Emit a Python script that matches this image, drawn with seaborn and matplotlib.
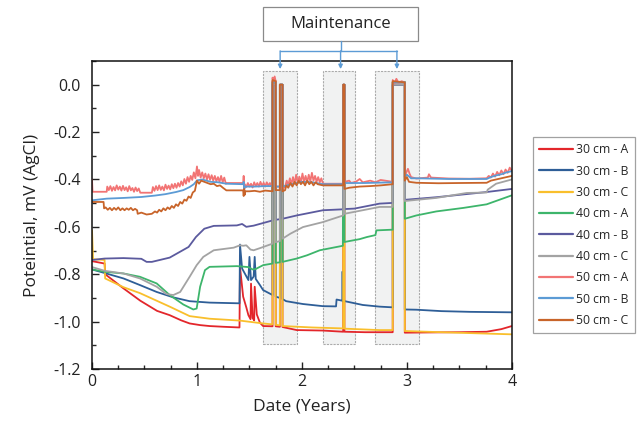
import matplotlib
matplotlib.use("Agg")
import matplotlib.pyplot as plt
import seaborn as sns
import pandas as pd
from matplotlib.patches import Rectangle
from matplotlib.ticker import MultipleLocator

# 数据 (年, 电位) —— 从原图读取
cm30_a = [(0.0, -0.745), (0.12, -0.755), (0.125, -0.80), (0.3, -0.86), (0.46, -0.912), (0.62, -0.955),
          (0.74, -0.973), (0.85, -0.995), (0.93, -1.008), (1.03, -1.015), (1.12, -1.019), (1.25, -1.022),
          (1.405, -1.025), (1.41, -0.77), (1.44, -0.895), (1.47, -0.94), (1.49, -0.973), (1.51, -0.99),
          (1.515, -0.84), (1.53, -0.985), (1.545, -0.995), (1.55, -0.853), (1.57, -0.97), (1.6, -1.005),
          (1.63, -1.019), (1.72, -1.02), (1.72, 0.015), (1.75, 0.015), (1.75, -1.02), (1.79, -1.022),
          (1.79, 0.0), (1.815, 0.0), (1.815, -1.023), (1.95, -1.036), (2.2, -1.038), (2.393, -1.043),
          (2.393, 0.0), (2.405, 0.0), (2.405, -1.043), (2.6, -1.045), (2.865, -1.045), (2.865, 0.01),
          (2.98, 0.01), (2.98, -1.047), (3.2, -1.046), (3.5, -1.045), (3.76, -1.043), (3.9, -1.032),
          (4.0, -1.019)]

cm30_b = [(0.0, -0.78), (0.12, -0.795), (0.3, -0.818), (0.457, -0.846), (0.616, -0.875), (0.775, -0.898),
          (0.93, -0.914), (1.12, -0.92), (1.405, -0.923), (1.41, -0.675), (1.43, -0.776), (1.49, -0.825),
          (1.50, -0.727), (1.515, -0.825), (1.54, -0.81), (1.55, -0.727), (1.56, -0.82), (1.6, -0.846),
          (1.63, -0.867), (1.72, -0.888), (1.72, 0.0), (1.75, 0.0), (1.75, -0.895), (1.79, -0.9),
          (1.79, 0.0), (1.815, 0.0), (1.815, -0.905), (1.85, -0.914), (2.01, -0.926), (2.2, -0.935),
          (2.325, -0.936), (2.33, -0.907), (2.385, -0.912), (2.385, -0.79), (2.39, -0.79), (2.39, -0.912),
          (2.43, -0.916), (2.58, -0.93), (2.74, -0.937), (2.865, -0.94), (2.865, 0.0), (2.98, 0.0),
          (2.98, -0.949), (3.09, -0.95), (3.33, -0.956), (3.6, -0.959), (4.0, -0.961)]

cm30_c = [(0.0, -0.615), (0.01, -0.737), (0.12, -0.74), (0.125, -0.818), (0.3, -0.855), (0.457, -0.88),
          (0.74, -0.937), (0.93, -0.977), (1.12, -0.988), (1.41, -0.996), (1.63, -1.008), (1.72, -1.012),
          (1.72, 0.01), (1.75, 0.01), (1.75, -1.014), (1.79, -1.016), (1.79, 0.0), (1.815, 0.0),
          (1.815, -1.019), (2.1, -1.025), (2.393, -1.029), (2.393, 0.0), (2.405, 0.0), (2.405, -1.03),
          (2.74, -1.036), (2.865, -1.036), (2.865, 0.01), (2.98, 0.01), (2.98, -1.04), (3.47, -1.047),
          (4.0, -1.054)]

cm40_a = [(0.0, -0.78), (0.124, -0.79), (0.3, -0.797), (0.457, -0.811), (0.616, -0.839), (0.74, -0.888),
          (0.87, -0.928), (0.965, -0.949), (0.997, -0.945), (1.03, -0.853), (1.076, -0.783), (1.12, -0.769),
          (1.38, -0.766), (1.49, -0.77), (1.53, -0.78), (1.56, -0.778), (1.63, -0.762), (1.72, -0.755),
          (1.72, 0.01), (1.75, 0.01), (1.75, -0.752), (1.79, -0.75), (1.79, 0.0), (1.815, 0.0),
          (1.815, -0.748), (1.95, -0.734), (2.05, -0.72), (2.17, -0.699), (2.39, -0.68), (2.393, 0.0),
          (2.405, 0.0), (2.405, -0.664), (2.55, -0.652), (2.62, -0.643), (2.7, -0.635), (2.71, -0.615),
          (2.865, -0.612), (2.865, 0.012), (2.98, 0.012), (2.98, -0.566), (3.09, -0.552), (3.28, -0.535),
          (3.54, -0.52), (3.76, -0.505), (4.0, -0.467)]

cm40_b = [(0.0, -0.74), (0.12, -0.734), (0.3, -0.732), (0.47, -0.735), (0.52, -0.748), (0.57, -0.748),
          (0.74, -0.73), (0.92, -0.685), (0.99, -0.643), (1.07, -0.608), (1.16, -0.596), (1.38, -0.594),
          (1.43, -0.588), (1.47, -0.60), (1.54, -0.595), (1.72, -0.573), (1.72, 0.0), (1.75, 0.0),
          (1.75, -0.57), (1.79, -0.568), (1.79, 0.0), (1.815, 0.0), (1.815, -0.566), (1.95, -0.552),
          (2.2, -0.53), (2.393, -0.526), (2.393, 0.0), (2.405, 0.0), (2.405, -0.525), (2.5, -0.523),
          (2.74, -0.502), (2.865, -0.499), (2.865, 0.0), (2.98, 0.0), (2.98, -0.486), (3.28, -0.475),
          (3.76, -0.453), (4.0, -0.44)]

cm40_c = [(0.0, -0.77), (0.124, -0.786), (0.3, -0.797), (0.457, -0.818), (0.616, -0.853), (0.71, -0.884),
          (0.775, -0.888), (0.84, -0.875), (0.93, -0.811), (0.997, -0.762), (1.06, -0.727), (1.16, -0.699),
          (1.35, -0.688), (1.41, -0.678), (1.44, -0.68), (1.47, -0.678), (1.51, -0.696), (1.54, -0.699),
          (1.6, -0.69), (1.72, -0.671), (1.72, 0.0), (1.75, 0.0), (1.75, -0.665), (1.79, -0.66),
          (1.79, 0.0), (1.815, 0.0), (1.815, -0.65), (1.89, -0.629), (2.01, -0.601), (2.2, -0.58),
          (2.393, -0.552), (2.393, 0.0), (2.405, 0.0), (2.405, -0.545), (2.74, -0.516), (2.865, -0.516),
          (2.865, 0.0), (2.98, 0.0), (2.98, -0.491), (3.28, -0.478), (3.57, -0.457), (3.76, -0.455),
          (3.77, -0.443), (3.85, -0.418), (4.0, -0.40)]

cm50_a = [(0.0, -0.400), (0.005, -0.452), (0.14, -0.452), (0.145, -0.430), (0.16, -0.445), (0.175, -0.428),
          (0.19, -0.448), (0.205, -0.432), (0.22, -0.446), (0.235, -0.425), (0.25, -0.443), (0.265, -0.430),
          (0.28, -0.447), (0.295, -0.427), (0.31, -0.445), (0.325, -0.433), (0.34, -0.450), (0.355, -0.428),
          (0.37, -0.446), (0.385, -0.436), (0.40, -0.452), (0.415, -0.434), (0.43, -0.449), (0.445, -0.438),
          (0.46, -0.456), (0.57, -0.456), (0.58, -0.432), (0.595, -0.448), (0.61, -0.428), (0.625, -0.445),
          (0.64, -0.425), (0.655, -0.444), (0.67, -0.430), (0.685, -0.446), (0.70, -0.422), (0.715, -0.440),
          (0.73, -0.426), (0.745, -0.442), (0.76, -0.420), (0.775, -0.437), (0.79, -0.418), (0.805, -0.435),
          (0.82, -0.415), (0.835, -0.430), (0.85, -0.408), (0.865, -0.425), (0.88, -0.398), (0.895, -0.418),
          (0.91, -0.390), (0.925, -0.410), (0.94, -0.385), (0.955, -0.402), (0.97, -0.370), (0.985, -0.395),
          (1.0, -0.345), (1.01, -0.385), (1.02, -0.360), (1.035, -0.392), (1.05, -0.370), (1.065, -0.395),
          (1.08, -0.375), (1.095, -0.400), (1.11, -0.378), (1.125, -0.402), (1.14, -0.382), (1.155, -0.405),
          (1.17, -0.385), (1.185, -0.408), (1.20, -0.390), (1.215, -0.410), (1.23, -0.385), (1.245, -0.412),
          (1.26, -0.392), (1.275, -0.418), (1.28, -0.415), (1.44, -0.415), (1.445, -0.385), (1.45, -0.440),
          (1.455, -0.420), (1.47, -0.432), (1.485, -0.415), (1.50, -0.430), (1.515, -0.418), (1.53, -0.434),
          (1.545, -0.412), (1.56, -0.428), (1.575, -0.415), (1.59, -0.430), (1.605, -0.410), (1.62, -0.428),
          (1.635, -0.414), (1.65, -0.430), (1.665, -0.412), (1.68, -0.426), (1.695, -0.415), (1.71, -0.428),
          (1.72, -0.420), (1.72, 0.030), (1.73, 0.010), (1.74, 0.035), (1.75, 0.015), (1.75, -0.430),
          (1.79, -0.430), (1.79, 0.0), (1.815, 0.0), (1.815, -0.440), (1.84, -0.430), (1.855, -0.405),
          (1.87, -0.425), (1.885, -0.395), (1.90, -0.420), (1.915, -0.390), (1.93, -0.418), (1.945, -0.380),
          (1.96, -0.415), (1.975, -0.388), (1.99, -0.412), (2.005, -0.375), (2.02, -0.410), (2.035, -0.385),
          (2.05, -0.412), (2.065, -0.380), (2.08, -0.408), (2.095, -0.372), (2.11, -0.405), (2.125, -0.385),
          (2.14, -0.410), (2.155, -0.390), (2.17, -0.412), (2.185, -0.395), (2.20, -0.418), (2.393, -0.418),
          (2.393, 0.0), (2.405, 0.0), (2.405, -0.410), (2.45, -0.405), (2.47, -0.415), (2.52, -0.408),
          (2.55, -0.398), (2.58, -0.412), (2.65, -0.405), (2.70, -0.412), (2.75, -0.402), (2.865, -0.410),
          (2.865, 0.020), (2.88, 0.005), (2.90, 0.025), (2.92, 0.008), (2.95, 0.015), (2.98, 0.010),
          (2.98, -0.390), (2.995, -0.370), (3.01, -0.355), (3.025, -0.375), (3.04, -0.390), (3.09, -0.396),
          (3.20, -0.392), (3.21, -0.378), (3.23, -0.392), (3.40, -0.396), (3.60, -0.397), (3.76, -0.395),
          (3.78, -0.385), (3.80, -0.392), (3.82, -0.375), (3.84, -0.388), (3.86, -0.368), (3.88, -0.382),
          (3.90, -0.362), (3.92, -0.378), (3.94, -0.358), (3.96, -0.372), (3.98, -0.350), (4.0, -0.365)]

cm50_b = [(0.0, -0.488), (0.14, -0.481), (0.3, -0.478), (0.47, -0.474), (0.6, -0.468), (0.7, -0.462),
          (0.8, -0.453), (0.87, -0.445), (0.93, -0.432), (0.97, -0.42), (1.0, -0.404), (1.05, -0.40),
          (1.13, -0.41), (1.2, -0.412), (1.28, -0.418), (1.44, -0.42), (1.445, -0.41), (1.45, -0.44),
          (1.46, -0.43), (1.55, -0.43), (1.65, -0.428), (1.72, -0.428), (1.72, 0.01), (1.75, 0.01),
          (1.75, -0.43), (1.79, -0.43), (1.79, 0.0), (1.815, 0.0), (1.815, -0.43), (1.9, -0.42),
          (2.0, -0.41), (2.1, -0.412), (2.2, -0.42), (2.393, -0.42), (2.393, 0.0), (2.405, 0.0),
          (2.405, -0.415), (2.6, -0.415), (2.865, -0.412), (2.865, 0.01), (2.98, 0.01), (2.98, -0.39),
          (3.0, -0.38), (3.04, -0.395), (3.09, -0.395), (3.4, -0.398), (3.76, -0.398), (3.8, -0.39),
          (3.85, -0.383), (3.9, -0.378), (3.95, -0.37), (4.0, -0.365)]

cm50_c = [(0.0, -0.495), (0.11, -0.495), (0.115, -0.522), (0.13, -0.518), (0.15, -0.528), (0.17, -0.520),
          (0.19, -0.530), (0.21, -0.520), (0.23, -0.528), (0.25, -0.518), (0.27, -0.530), (0.29, -0.522),
          (0.31, -0.530), (0.33, -0.522), (0.35, -0.528), (0.37, -0.520), (0.39, -0.530), (0.41, -0.524),
          (0.43, -0.530), (0.435, -0.545), (0.47, -0.540), (0.52, -0.548), (0.57, -0.545), (0.60, -0.535),
          (0.62, -0.540), (0.64, -0.528), (0.66, -0.535), (0.68, -0.522), (0.70, -0.530), (0.72, -0.518),
          (0.74, -0.525), (0.76, -0.512), (0.78, -0.520), (0.80, -0.505), (0.82, -0.512), (0.84, -0.495),
          (0.86, -0.502), (0.88, -0.485), (0.90, -0.490), (0.92, -0.472), (0.94, -0.478), (0.96, -0.455),
          (0.98, -0.448), (1.0, -0.405), (1.02, -0.418), (1.04, -0.405), (1.07, -0.410), (1.10, -0.415),
          (1.13, -0.420), (1.16, -0.418), (1.19, -0.428), (1.22, -0.425), (1.25, -0.436), (1.28, -0.446),
          (1.44, -0.446), (1.445, -0.470), (1.45, -0.440), (1.455, -0.465), (1.46, -0.450), (1.50, -0.450),
          (1.55, -0.448), (1.60, -0.452), (1.65, -0.447), (1.72, -0.450), (1.72, 0.020), (1.75, 0.015),
          (1.75, -0.445), (1.79, -0.445), (1.79, 0.0), (1.815, 0.0), (1.815, -0.450), (1.84, -0.445),
          (1.85, -0.425), (1.87, -0.435), (1.89, -0.415), (1.91, -0.430), (1.93, -0.410), (1.95, -0.425),
          (1.97, -0.405), (1.99, -0.420), (2.01, -0.410), (2.03, -0.425), (2.05, -0.405), (2.07, -0.420),
          (2.09, -0.410), (2.11, -0.425), (2.13, -0.412), (2.15, -0.420), (2.20, -0.425), (2.393, -0.425),
          (2.393, 0.0), (2.405, 0.0), (2.405, -0.440), (2.45, -0.435), (2.55, -0.430), (2.65, -0.428),
          (2.75, -0.425), (2.865, -0.420), (2.865, 0.015), (2.98, 0.010), (2.98, -0.405), (3.0, -0.390),
          (3.02, -0.410), (3.09, -0.414), (3.30, -0.416), (3.50, -0.415), (3.76, -0.414), (3.80, -0.405),
          (3.85, -0.400), (3.90, -0.395), (3.95, -0.390), (4.0, -0.385)]

series_names = ['30 cm - A', '30 cm - B', '30 cm - C', '40 cm - A', '40 cm - B', '40 cm - C',
                '50 cm - A', '50 cm - B', '50 cm - C']
series_data = [cm30_a, cm30_b, cm30_c, cm40_a, cm40_b, cm40_c, cm50_a, cm50_b, cm50_c]
colors = ['#E3262B', '#2E5E97', '#F9BF2C', '#3DB56B', '#5B5A9E', '#A3A3A3',
          '#F27474', '#5C9BD5', '#C8642A']

# 维护时段
maint_windows = [(1.63, 1.955), (2.20, 2.505), (2.695, 3.115)]
maint_label = 'Maintenance'

rows = []
for name, pts in zip(series_names, series_data):
    for i, (t, v) in enumerate(pts):
        rows.append({'series': name, 'order': i, 'year': t, 'pot': v})
df = pd.DataFrame(rows)

sns.set_style('ticks')
plt.rcParams['font.family'] = ['Open Sans', 'DejaVu Sans']

fig = plt.figure(figsize=(6.39, 4.33), dpi=100)
ax = fig.add_axes([0.144, 0.148, 0.657, 0.711])

# 灰色背景框
for x0, x1 in maint_windows:
    ax.add_patch(Rectangle((x0, -1.095), x1 - x0, 1.155, facecolor='#F1F2F2',
                           edgecolor='#ABABAB', lw=0.8, ls=(0, (2, 1)), zorder=0))

sns.lineplot(data=df, x='year', y='pot', hue='series', hue_order=series_names,
             palette=colors, estimator=None, sort=False, units='series',
             linewidth=1.3, ax=ax, zorder=2)

ax.set_xlim(0, 4)
ax.set_ylim(-1.2, 0.1)
ax.xaxis.set_major_locator(MultipleLocator(1))
ax.xaxis.set_minor_locator(MultipleLocator(0.25))
ax.yaxis.set_minor_locator(MultipleLocator(0.1))
ax.set_yticks([0.0, -0.2, -0.4, -0.6, -0.8, -1.0, -1.2])
ax.set_yticklabels(['0.0', '-0.2', '-0.4', '-0.6', '-0.8', '-1.0', '-1.2'])
ax.tick_params(which='major', direction='in', length=5, width=1.0, labelsize=11.5, colors='#222222')
ax.tick_params(axis='y', which='major', pad=8)
ax.tick_params(which='minor', direction='in', length=3, width=1.0)
for sp in ax.spines.values():
    sp.set_linewidth(1.1)
    sp.set_color('#111111')
    sp.set_visible(True)

ax.set_xlabel('Date (Years)', fontsize=12.5, color='#222222', labelpad=6)
ax.set_ylabel('Poteintial, mV (AgCl)', fontsize=12.5, color='#222222', labelpad=10)

# Maintenance 标注框与箭头
bx0, bx1 = maint_windows[0][0], maint_windows[-1][0] + (maint_windows[-1][1] - maint_windows[-1][0]) * 0.98
bcx = (bx0 + bx1) / 2
ax.add_patch(Rectangle((bx0, 0.185), bx1 - bx0, 0.143, facecolor='white', edgecolor='#8A8A8A',
                       lw=0.9, clip_on=False, zorder=5))
ax.text(bcx, 0.256, maint_label, ha='center', va='center', fontsize=12, color='#222222',
        clip_on=False, zorder=6)
arrow_c = '#5C9BD5'
centers = [(a + b) / 2 for a, b in maint_windows]
ax.plot([bcx, bcx], [0.185, 0.143], color=arrow_c, lw=1, clip_on=False, zorder=5)
ax.plot([centers[0], centers[-1]], [0.143, 0.143], color=arrow_c, lw=1, clip_on=False, zorder=5)
for i, xc in enumerate(centers):
    xa = bcx if i == 1 else xc
    ax.annotate('', xy=(xa, 0.066), xytext=(xa, 0.143),
                arrowprops=dict(arrowstyle='-|>', color=arrow_c, lw=1, mutation_scale=6,
                                shrinkA=0, shrinkB=0),
                annotation_clip=False, zorder=5)

leg = ax.legend(loc='upper left', bbox_to_anchor=(0.834, 0.683), bbox_transform=fig.transFigure,
                fontsize=8.8, frameon=True, fancybox=False, edgecolor='#8A8A8A',
                handlelength=2.8, handletextpad=0.25, labelspacing=0.68, borderpad=0.5,
                borderaxespad=0)
leg.get_frame().set_linewidth(0.9)
for line in leg.get_lines():
    line.set_linewidth(1.6)

fig.savefig('out.png', dpi=100)
